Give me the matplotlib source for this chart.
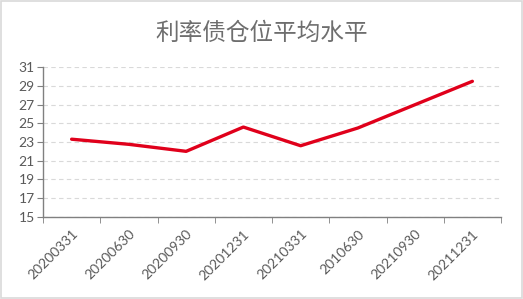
"""Line chart: average rate-bond position level."""
import matplotlib
matplotlib.use("Agg")
import matplotlib.pyplot as plt
from matplotlib.patches import Rectangle

plt.rcParams['font.family'] = ['Noto Sans CJK SC', 'DejaVu Sans']

dates = ["20200331", "20200630", "20200930", "20201231",
         "20210331", "2010630", "20210930", "20211231"]
position = [23.3, 22.75, 22.0, 24.6, 22.6, 24.5, 27.0, 29.5]
y_ticks = list(range(15, 32, 2))

GRAY = "#595959"
fig = plt.figure(figsize=(5.23, 2.99), dpi=100)
ax = fig.add_axes([43 / 523, 1 - 216.7 / 299, 458 / 523, 149.4 / 299])

x = range(len(dates))
ax.plot(x, position, color="#E0001B", linewidth=2.4, solid_capstyle="round",
        solid_joinstyle="round", zorder=3)

ax.set_xlim(-0.5, len(dates) - 0.5)
ax.set_ylim(15, 31)
ax.set_yticks(y_ticks)
ax.set_yticklabels([str(v) for v in y_ticks], fontsize=10, color=GRAY,
                   family=['Lato', 'DejaVu Sans'])
ax.grid(axis="y", linestyle=(0, (4, 3)), color="#D9D9D9", linewidth=0.8)

# labels at category centres, tick marks at category boundaries
ax.set_xticks(list(x))
ax.set_xticklabels(dates, rotation=45, ha="right", rotation_mode="anchor",
                   fontsize=10, color=GRAY, family=['Lato', 'DejaVu Sans'])
ax.tick_params(axis="x", which="major", length=0, pad=8)
ax.set_xticks([i - 0.5 for i in range(len(dates) + 1)], minor=True)
ax.tick_params(axis="x", which="minor", length=4, color="#808080", direction="out")
ax.tick_params(axis="y", length=4, color="#808080", pad=2)

for side in ["top", "right"]:
    ax.spines[side].set_visible(False)
for side in ["left", "bottom"]:
    ax.spines[side].set_color("#808080")
    ax.spines[side].set_linewidth(1)

fig.text(0.5, 0.888, "利率债仓位平均水平", ha="center", va="center",
         fontsize=17, color="#6E6E6E", weight="light")

fig.patches.append(Rectangle((0.002, 0.003), 0.996, 0.994, transform=fig.transFigure,
                             fill=False, edgecolor="#D9D9D9", linewidth=1.2))

fig.savefig("out.png", dpi=100)
plt.close(fig)
